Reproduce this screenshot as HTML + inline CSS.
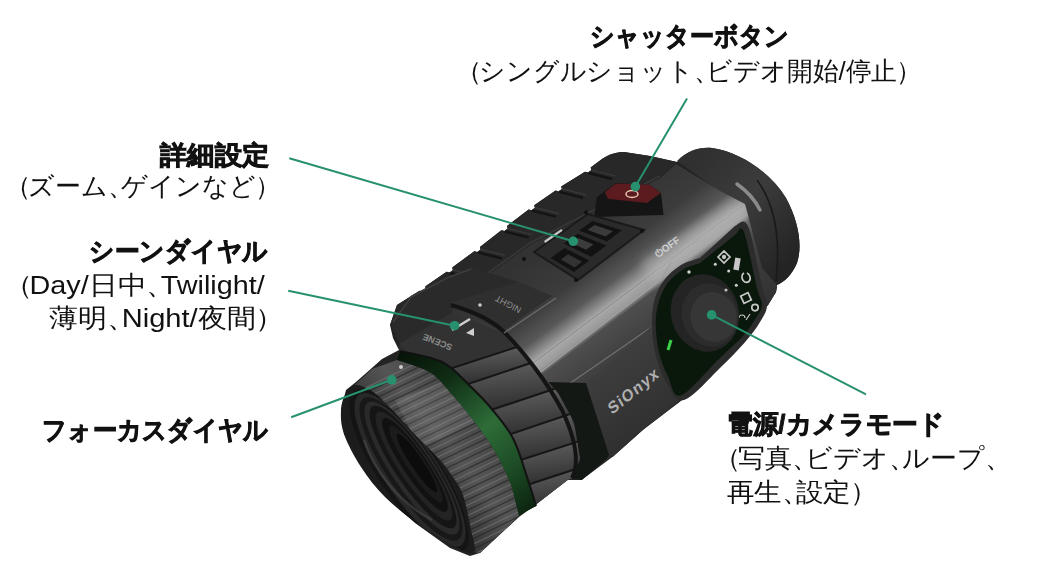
<!DOCTYPE html>
<html><head><meta charset="utf-8">
<style>
html,body{margin:0;padding:0;background:#fff;}
body{width:1058px;height:575px;overflow:hidden;position:relative;font-family:"Liberation Sans",sans-serif;color:#111;}
svg{position:absolute;left:0;top:0;}
.t{position:absolute;white-space:nowrap;line-height:1;transform-origin:0 0;}
.b{font-weight:bold;-webkit-text-stroke:0.9px #111;}
.po{margin-left:-0.04em;}
.pc{margin-left:-0.5em;margin-right:-0.1em;}
.cm{margin-right:-0.5em;}
</style></head><body>
<svg width="1058" height="575" viewBox="0 0 1058 575">
<defs>
 <linearGradient id="gSide" gradientUnits="userSpaceOnUse" x1="620" y1="297.8" x2="692" y2="394">
  <stop offset="0" stop-color="#a8a8a8"/><stop offset="0.08" stop-color="#9a9a9a"/><stop offset="0.125" stop-color="#4e4e4e"/><stop offset="0.45" stop-color="#3c3c3c"/><stop offset="1" stop-color="#2a2a2a"/>
 </linearGradient>
 <linearGradient id="gTop" gradientUnits="userSpaceOnUse" x1="566" y1="226" x2="620" y2="297.8">
  <stop offset="0" stop-color="#323232"/><stop offset="0.55" stop-color="#3c3c3c"/><stop offset="0.8" stop-color="#585858"/><stop offset="1" stop-color="#a8a8a8"/>
 </linearGradient>
 <linearGradient id="gCup" gradientUnits="userSpaceOnUse" x1="700" y1="160" x2="800" y2="250">
  <stop offset="0" stop-color="#303030"/><stop offset="0.45" stop-color="#3c3c3c"/><stop offset="1" stop-color="#242424"/>
 </linearGradient>
 <linearGradient id="gKnurl" gradientUnits="userSpaceOnUse" x1="400" y1="475" x2="485" y2="405">
  <stop offset="0" stop-color="#2e2e2e"/><stop offset="0.5" stop-color="#555"/><stop offset="0.8" stop-color="#4a4a4a"/><stop offset="1" stop-color="#383838"/>
 </linearGradient>
 <linearGradient id="gGreen" gradientUnits="userSpaceOnUse" x1="400" y1="350" x2="530" y2="510">
  <stop offset="0" stop-color="#061207"/><stop offset="0.25" stop-color="#0f2c14"/><stop offset="0.55" stop-color="#2e6c38"/><stop offset="0.8" stop-color="#1c4a24"/><stop offset="1" stop-color="#0c2410"/>
 </linearGradient>
 <linearGradient id="gBlock" gradientUnits="userSpaceOnUse" x1="600" y1="350" x2="650" y2="430">
  <stop offset="0" stop-color="#404040"/><stop offset="1" stop-color="#303030"/>
 </linearGradient>
 <linearGradient id="gCollar" gradientUnits="userSpaceOnUse" x1="470" y1="420" x2="560" y2="380">
  <stop offset="0" stop-color="#2e2e2e"/><stop offset="0.5" stop-color="#444"/><stop offset="1" stop-color="#2a2a2a"/>
 </linearGradient>
 <linearGradient id="gFacet" x1="0" y1="0" x2="0.2" y2="1">
  <stop offset="0" stop-color="#6e6e6e"/><stop offset="0.3" stop-color="#545454"/><stop offset="1" stop-color="#2e2e2e"/>
 </linearGradient>
 <clipPath id="collarClip"><path d="M399,350 L399.5,343.4 L452,313 L505,333 L534,366 L558,393 L574,422 L580,459 L572,478 L567.6,480 L533,506.7 L524,512 L536,506 C534.7,501.7 531.8,491.1 528.0,480.0 C524.2,468.9 519.4,451.0 513.5,439.3 C507.6,427.6 499.9,418.9 492.6,410.0 C485.4,401.1 478.4,394.0 470.0,386.0 C461.6,378.0 453.7,367.8 442.0,362.0 C430.3,356.2 407.0,352.8 400.0,351.0 Z"/></clipPath>
 <filter id="blur6" x="-50%" y="-50%" width="200%" height="200%"><feGaussianBlur stdDeviation="6"/></filter>
 <clipPath id="bodyClip"><path d="M480,403 L745,204 L762,268 L777,285 L776,292 L768,305 L753,321 L743,338 L682,400 L642.7,430 L613,456.6 L581.6,480 L540,440 Z M415,327 L530,245 L660,178 L676,164 L722,192 L745,204 L480,403 L410,336 Z"/></clipPath>
 <clipPath id="knurlClip"><path d="M346,393 L372,369 L397,360 C402.5,362.1 421.0,366.9 430.0,372.5 C439.0,378.1 444.0,385.7 451.0,393.4 C458.0,401.1 464.9,409.4 471.8,418.5 C478.7,427.6 486.4,437.4 492.6,447.7 C498.8,457.9 505.1,470.6 509.0,480.0 C512.9,489.4 514.3,498.0 516.0,504.0 C517.7,510.0 518.5,514.0 519.0,516.0 L480,553 L474,552 L420,500 L380,430 Z"/></clipPath>
 <clipPath id="faceClip"><path d="M474.0,552.0 C471.0,554.7 462.3,550.7 453.0,546.0 C443.7,541.3 429.3,532.2 418.0,524.0 C406.7,515.8 394.5,506.5 385.0,497.0 C375.5,487.5 367.8,477.5 361.0,467.0 C354.2,456.5 347.3,443.5 344.0,434.0 C340.7,424.5 340.7,416.8 341.0,410.0 C341.3,403.2 343.5,397.2 346.0,393.0 C348.5,388.8 351.5,385.2 356.0,385.0 C360.5,384.8 367.0,387.8 373.0,392.0 C379.0,396.2 384.8,402.7 392.0,410.0 C399.2,417.3 407.9,427.6 416.0,436.0 C424.1,444.4 434.8,454.1 440.7,460.7 C446.6,467.2 448.2,470.2 451.7,475.3 C455.1,480.4 458.8,485.2 461.4,491.0 C463.9,496.8 465.4,503.5 467.0,510.0 C468.6,516.5 469.8,523.0 471.0,530.0 C472.2,537.0 477.0,549.3 474.0,552.0 Z"/></clipPath>
</defs>
<!-- silhouette base -->
<path d="M397,305 L419.6,290.8 L422.7,291.6 L425.9,289.1 L425.2,286.6 L446.6,271.8 L449.7,272.6 L452.9,270.1 L452.2,267.6 L474.3,251.2 L477.4,252.0 L480.6,249.5 L479.9,247.0 L501.4,230.3 L504.5,231.1 L507.7,228.6 L507.0,226.1 L528.6,209.4 L531.7,210.2 L534.9,207.7 L534.2,205.2 L555.6,190.6 L558.7,191.4 L561.9,188.9 L561.2,186.4 L585.0,171.8 L588.1,172.6 L591.3,170.1 L590.6,167.6 L602,159 C610,154 616,152 624,152 L650,156 L677,162 C688,150 700,147 712,148 C740,152 770,172 786,198 C798,220 803,245 797,263 C792,275 784,282 777,285 L776,292 L768,305 L753,321 L749,332 L743,338 L682,400 L642.7,430 L613,456.6 L606.7,459 L581.6,480 L567.6,480 L533,506.7 L519,517 L480,553 L470,556 L450,548 L415,523 L385,496 L362,467 L344,434 L341,410 L346,390 L356,382 L382,359 L399,350 L393,338 L390,325 Z" fill="#232323"/>
<!-- eyecup -->
<path d="M677,161 C688,150 700,147 712,148 C740,152 770,172 786,198 C798,220 803,245 797,263 C792,275 784,282 777,285 L762,272 L748,228 L725,195 Z" fill="url(#gCup)"/>
<path d="M757,180 C770,198 777,222 777.5,249 C778,262 777,272 776,281" stroke="#1a1a1a" stroke-width="1.6" fill="none"/>
<path d="M737,184 C747,191 755,200 760,210" stroke="#a0a0a0" stroke-width="3.5" fill="none" stroke-linecap="round" opacity="0.8"/>
<!-- rear collar -->
<path d="M672,166 L722,192 L746,224 L762,268 L777,285 L776,292 L768,305 L753,321 L748,300 L738,252 L716,216 L660,182 Z" fill="#252525"/>
<!-- top surface -->
<path d="M415,327 L530,245 L660,178 L676,164 L722,192 L745,204 L480,403 L410,336 Z" fill="url(#gTop)"/>
<!-- top rail -->
<path d="M397,305 L419.6,290.8 L422.7,291.6 L425.9,289.1 L425.2,286.6 L446.6,271.8 L449.7,272.6 L452.9,270.1 L452.2,267.6 L474.3,251.2 L477.4,252.0 L480.6,249.5 L479.9,247.0 L501.4,230.3 L504.5,231.1 L507.7,228.6 L507.0,226.1 L528.6,209.4 L531.7,210.2 L534.9,207.7 L534.2,205.2 L555.6,190.6 L558.7,191.4 L561.9,188.9 L561.2,186.4 L585.0,171.8 L588.1,172.6 L591.3,170.1 L590.6,167.6 L602,159 C610,154 616,152 624,152 L650,156 L677,162 L660,178 L530,245 L415,327 L400,338 L390,325 Z" fill="#282828"/>
<g stroke="#141414" stroke-width="2.5" fill="none"><path d="M423.0,292.0 l24,6"/><path d="M450.0,273.0 l24,6"/><path d="M477.7,252.4 l24,6"/><path d="M504.8,231.5 l24,6"/><path d="M532.0,210.6 l24,6"/><path d="M559.0,191.8 l24,6"/><path d="M588.4,173.0 l24,6"/></g>
<g stroke="#3a3a3a" stroke-width="1.2" fill="none"><path d="M426.0,289.0 l24,6"/><path d="M453.0,270.0 l24,6"/><path d="M480.7,249.4 l24,6"/><path d="M507.8,228.5 l24,6"/><path d="M535.0,207.6 l24,6"/><path d="M562.0,188.8 l24,6"/><path d="M591.4,170.0 l24,6"/></g>
<path d="M415,325 L530,243 L660,176" stroke="#383838" stroke-width="1.5" fill="none"/>
<!-- side face -->
<path d="M480,403 L745,204 L762,268 L777,285 L776,292 L768,305 L753,321 L743,338 L682,400 L642.7,430 L613,456.6 L581.6,480 L540,440 Z" fill="url(#gSide)"/>
<g clip-path="url(#bodyClip)"><path d="M640,262 L735,200 L752,220 L745,236 L690,262 L655,285 Z" fill="#b8b8b8" opacity="0.45" filter="url(#blur6)"/></g>
<path d="M530,380 L662,279 C666,272 668,266 672,262" stroke="#a0a0a0" stroke-width="1.3" fill="none"/>
<path d="M569,384 L653,326" stroke="#707070" stroke-width="1.2"/>
<text x="658" y="258" font-size="10" fill="#d0d0d0" transform="rotate(-36 658 258)" font-family="Liberation Sans" font-weight="bold">&#x23FB;OFF</text>
<!-- SiOnyx block -->
<path d="M586,383 L652,326 L662,333 L682,398 L642.7,430 L613,456.6 L609,455 Z" fill="url(#gBlock)"/>
<path d="M548,382 L586,383 L609,455 L606.7,459 L581.6,480 L572,478 Z" fill="#131814"/>
<text x="0" y="0" font-size="16" fill="#b0b0b0" transform="translate(612 415) rotate(-39) skewX(-10)" font-family="Liberation Sans" font-weight="bold" letter-spacing="1.2">SiOnyx</text>
<!-- green panel bezel & panel -->
<path d="M735.0,226.0 C737.2,226.0 743.5,215.8 748.0,226.0 C752.5,236.2 758.8,273.7 762.0,287.0 C765.2,300.3 767.3,300.2 767.0,306.0 C766.7,311.8 763.5,316.2 760.0,322.0 C756.5,327.8 752.3,333.7 746.0,341.0 C739.7,348.3 732.3,356.2 722.0,366.0 C711.7,375.8 693.3,397.3 684.0,400.0 C674.7,402.7 670.8,390.0 666.0,382.0 C661.2,374.0 657.3,362.0 655.0,352.0 C652.7,342.0 652.0,331.0 652.0,322.0 C652.0,313.0 652.8,305.2 655.0,298.0 C657.2,290.8 660.7,284.5 665.0,279.0 C669.3,273.5 675.2,268.5 681.0,265.0 C686.8,261.5 696.8,259.2 700.0,258.0 Z" fill="#2c2c2c"/>
<path d="M736.0,234.0 C737.3,233.7 740.5,223.0 744.0,232.0 C747.5,241.0 754.0,275.8 757.0,288.0 C760.0,300.2 762.2,300.0 762.0,305.0 C761.8,310.0 759.2,312.8 756.0,318.0 C752.8,323.2 749.0,329.3 743.0,336.0 C737.0,342.7 730.3,348.1 720.0,358.0 C709.7,367.9 689.7,392.3 681.0,395.4 C672.3,398.5 671.7,383.9 668.0,376.6 C664.3,369.3 660.8,360.4 658.8,351.5 C656.8,342.6 655.7,331.8 655.7,323.4 C655.7,315.0 656.8,308.2 658.8,301.4 C660.8,294.6 663.8,288.0 668.0,282.6 C672.2,277.2 678.5,272.3 683.8,269.0 C689.1,265.7 697.3,264.0 700.0,263.0 Z" fill="#0a180c"/>
<g fill="none" stroke="#c8c8c8" stroke-width="1.7">
 <path d="M718,257 L724,251 L730,257 L724,263 Z"/>
 <circle cx="724" cy="257" r="1.3" fill="#c8c8c8"/>
 <path d="M736,270 L738,258" stroke-width="5.5"/>
 <path d="M744,273 a4,5 -20 1 0 3,0"/>
 <rect x="742" y="294" width="8" height="8" transform="rotate(-25 746 298)"/>
 <circle cx="755" cy="307.6" r="3.2"/>
 <path d="M750,314 L746,320" stroke-width="1.2"/>
 <path d="M739,318 a3,3 0 0 1 6,0" stroke-width="1.2"/>
</g>
<g fill="#d0d0d0">
 <circle cx="715.3" cy="264.2" r="1.5"/><circle cx="689" cy="272" r="1.7"/><circle cx="728.7" cy="271" r="1.5"/><circle cx="736.3" cy="285.2" r="1.5"/>
</g>
<ellipse cx="705" cy="313" rx="34" ry="39" transform="rotate(-15 705 313)" fill="#242424"/>
<ellipse cx="710" cy="315" rx="28" ry="32" transform="rotate(-15 710 315)" fill="#2c2c2c"/>
<ellipse cx="713.6" cy="317" rx="23" ry="25" transform="rotate(-15 713.6 317)" fill="#363636"/>
<circle cx="726" cy="290" r="1.6" fill="#bbb"/>
<path d="M668,350 L671,340" stroke="#3bd046" stroke-width="3"/>
<!-- shutter -->
<path d="M597,197 L605,191 L616,183 L650,185 L661,193 L663.5,215 L594,217 Z" fill="#151515"/>
<path d="M605,192 L616,183.4 L649.6,184.8 L660.7,193 L646.8,203 L607.8,198.7 Z" fill="#5c1b1f"/>
<ellipse cx="632" cy="194" rx="6" ry="3.5" fill="none" stroke="#e6c8b0" stroke-width="1.5"/>
<!-- button pad -->
<path d="M534.0,252.0 L588.0,214.0 L644.0,230.0 L578.0,280.0 Z" fill="#2a2a2a" stroke="#1a1a1a" stroke-width="2"/>
<path d="M579.0,230.5 L592.5,220.9 L622.1,230.2 L607.0,241.4 Z" fill="#121212"/><path d="M587.6,230.1 L594.5,225.1 L612.9,231.2 L605.5,236.6 Z" fill="#3a3a3a"/>
<path d="M564.1,243.5 L577.7,233.8 L606.3,245.4 L591.1,256.8 Z" fill="#121212"/><path d="M571.4,242.9 L578.3,237.9 L593.4,244.4 L586.1,249.8 Z" fill="#3c3c3c"/>
<path d="M550.7,257.9 L564.5,247.9 L589.2,260.6 L573.9,272.1 Z" fill="#121212"/><path d="M560.9,259.4 L568.1,254.2 L582.1,261.7 L574.6,267.4 Z" fill="#333"/>
<path d="M544.6,242 L562,229.8" stroke="#c8c8c8" stroke-width="2.2"/>
<g fill="#111"><circle cx="586" cy="212.5" r="2"/><circle cx="642" cy="231" r="2"/><circle cx="524" cy="259" r="2"/><circle cx="576" cy="280" r="2"/></g>

<!-- scene housing -->
<path d="M391,324 L410.6,296 L446.8,276.7 L471.8,268 L519,282 L452,302 L452,313 L399.5,343.4 Z" fill="#2a2a2a"/>
<path d="M393,322 L411,297 L447,278 L471,269" stroke="#3e3e3e" stroke-width="1.5" fill="none"/>
<!-- lens housing collar -->
<path d="M399,350 L399.5,343.4 L452,313 L505,333 L534,366 L558,393 L574,422 L580,459 L572,478 L567.6,480 L533,506.7 L524,512 L536,506 C534.7,501.7 531.8,491.1 528.0,480.0 C524.2,468.9 519.4,451.0 513.5,439.3 C507.6,427.6 499.9,418.9 492.6,410.0 C485.4,401.1 478.4,394.0 470.0,386.0 C461.6,378.0 453.7,367.8 442.0,362.0 C430.3,356.2 407.0,352.8 400.0,351.0 Z" fill="url(#gCollar)"/>
<path d="M399.5,343.4 L452,313 L502,332 L520,355 L470,372 L420,366 Z" fill="#323232"/>
<text x="453" y="345" font-size="9" fill="#8a8a8a" transform="rotate(202 453 345)" font-family="Liberation Sans" font-weight="bold">SCENE</text>
<path d="M452,330 L470,319" stroke="#d0d0d0" stroke-width="2.5"/>
<path d="M466,333 L474,328 L474,336 Z" fill="#cfcfcf"/>
<g clip-path="url(#collarClip)">
 <path d="M440,372 L520,346 L540,360 L462,386 Z" fill="url(#gFacet)"/>
 <path d="M462,386 L540,360 L557,388 L482,413 Z" fill="url(#gFacet)"/>
 <path d="M482,413 L557,388 L570,414 L496,439 Z" fill="url(#gFacet)"/>
 <path d="M496,439 L570,414 L580,441 L508,464 Z" fill="url(#gFacet)"/>
 <path d="M508,464 L580,441 L585,466 L518,488 Z" fill="url(#gFacet)"/>
 <path d="M518,488 L585,466 L590,490 L528,512 Z" fill="url(#gFacet)"/>
 <g stroke="#161616" stroke-width="2" fill="none">
  <path d="M440,372 L520,346"/><path d="M462,386 L540,360"/><path d="M482,413 L557,388"/><path d="M496,439 L570,414"/><path d="M508,464 L580,441"/><path d="M518,488 L585,466"/>
 </g>
</g>
<!-- NIGHT plate -->
<path d="M452,302 L519,282 L552,296 L502,332 Z" fill="#2f2f2f"/>
<text x="522" y="308" font-size="9" fill="#909090" transform="rotate(208 522 308)" font-family="Liberation Sans">NIGHT</text>
<circle cx="480" cy="305" r="1.8" fill="#ccc"/>
<path d="M451,305 C475,312 495,322 506,334 C522,350 546,380 562,410 C576,440 580,462 572,478" stroke="#141414" stroke-width="4" fill="none"/>
<path d="M504,333 L556,298" stroke="#6a6a6a" stroke-width="1.5"/>
<!-- green ring -->
<path d="M400.0,351.0 C407.0,352.8 430.3,356.2 442.0,362.0 C453.7,367.8 461.6,378.0 470.0,386.0 C478.4,394.0 485.4,401.1 492.6,410.0 C499.9,418.9 507.6,427.6 513.5,439.3 C519.4,451.0 524.2,468.9 528.0,480.0 C531.8,491.1 534.7,501.7 536.0,506.0 L518,516 C518.5,514.0 517.7,510.0 516.0,504.0 C514.3,498.0 512.9,489.4 509.0,480.0 C505.1,470.6 498.8,457.9 492.6,447.7 C486.4,437.4 478.7,427.6 471.8,418.5 C464.9,409.4 458.0,401.1 451.0,393.4 C444.0,385.7 439.0,378.1 430.0,372.5 C421.0,366.9 402.5,362.1 397.0,360.0 Z" fill="url(#gGreen)"/>
<path d="M400.0,351.0 C407.0,352.8 430.3,356.2 442.0,362.0 C453.7,367.8 461.6,378.0 470.0,386.0 C478.4,394.0 485.4,401.1 492.6,410.0 C499.9,418.9 507.6,427.6 513.5,439.3 C519.4,451.0 524.2,468.9 528.0,480.0 C531.8,491.1 534.7,501.7 536.0,506.0" stroke="#121212" stroke-width="2" fill="none"/>
<!-- knurl ring -->
<path d="M346,393 L372,369 L397,360 C402.5,362.1 421.0,366.9 430.0,372.5 C439.0,378.1 444.0,385.7 451.0,393.4 C458.0,401.1 464.9,409.4 471.8,418.5 C478.7,427.6 486.4,437.4 492.6,447.7 C498.8,457.9 505.1,470.6 509.0,480.0 C512.9,489.4 514.3,498.0 516.0,504.0 C517.7,510.0 518.5,514.0 519.0,516.0 L480,553 L474,552 L420,500 L380,430 Z" fill="url(#gKnurl)"/>
<g clip-path="url(#knurlClip)" stroke-width="1.2">
 <g stroke="#7a7a7a" opacity="0.6">
 <path d="M330.0,405.0 l120,-58"/><path d="M335.0,413.0 l120,-58"/><path d="M340.0,421.0 l120,-58"/><path d="M345.0,429.0 l120,-58"/><path d="M350.0,437.0 l120,-58"/><path d="M355.0,445.0 l120,-58"/><path d="M360.0,453.0 l120,-58"/><path d="M365.0,461.0 l120,-58"/><path d="M370.0,469.0 l120,-58"/><path d="M375.0,477.0 l120,-58"/><path d="M380.0,485.0 l120,-58"/><path d="M385.0,493.0 l120,-58"/><path d="M390.0,501.0 l120,-58"/><path d="M395.0,509.0 l120,-58"/><path d="M400.0,517.0 l120,-58"/><path d="M405.0,525.0 l120,-58"/><path d="M410.0,533.0 l120,-58"/><path d="M415.0,541.0 l120,-58"/><path d="M420.0,549.0 l120,-58"/><path d="M425.0,557.0 l120,-58"/><path d="M430.0,565.0 l120,-58"/><path d="M435.0,573.0 l120,-58"/><path d="M440.0,581.0 l120,-58"/><path d="M445.0,589.0 l120,-58"/><path d="M450.0,597.0 l120,-58"/><path d="M455.0,605.0 l120,-58"/>
 </g>
 <g stroke="#1e1e1e" opacity="0.6">
 <path d="M332.0,409.0 l120,-58"/><path d="M337.0,417.0 l120,-58"/><path d="M342.0,425.0 l120,-58"/><path d="M347.0,433.0 l120,-58"/><path d="M352.0,441.0 l120,-58"/><path d="M357.0,449.0 l120,-58"/><path d="M362.0,457.0 l120,-58"/><path d="M367.0,465.0 l120,-58"/><path d="M372.0,473.0 l120,-58"/><path d="M377.0,481.0 l120,-58"/><path d="M382.0,489.0 l120,-58"/><path d="M387.0,497.0 l120,-58"/><path d="M392.0,505.0 l120,-58"/><path d="M397.0,513.0 l120,-58"/><path d="M402.0,521.0 l120,-58"/><path d="M407.0,529.0 l120,-58"/><path d="M412.0,537.0 l120,-58"/><path d="M417.0,545.0 l120,-58"/><path d="M422.0,553.0 l120,-58"/><path d="M427.0,561.0 l120,-58"/><path d="M432.0,569.0 l120,-58"/><path d="M437.0,577.0 l120,-58"/><path d="M442.0,585.0 l120,-58"/><path d="M447.0,593.0 l120,-58"/><path d="M452.0,601.0 l120,-58"/><path d="M457.0,609.0 l120,-58"/>
 </g>
</g>
<g clip-path="url(#knurlClip)"><path d="M395,400 L455,378 L480,420 L420,448 Z" fill="#ffffff" opacity="0.09"/></g>
<circle cx="401" cy="367" r="2" fill="#ccc"/>
<!-- lens front face -->
<path d="M474.0,552.0 C471.0,554.7 462.3,550.7 453.0,546.0 C443.7,541.3 429.3,532.2 418.0,524.0 C406.7,515.8 394.5,506.5 385.0,497.0 C375.5,487.5 367.8,477.5 361.0,467.0 C354.2,456.5 347.3,443.5 344.0,434.0 C340.7,424.5 340.7,416.8 341.0,410.0 C341.3,403.2 343.5,397.2 346.0,393.0 C348.5,388.8 351.5,385.2 356.0,385.0 C360.5,384.8 367.0,387.8 373.0,392.0 C379.0,396.2 384.8,402.7 392.0,410.0 C399.2,417.3 407.9,427.6 416.0,436.0 C424.1,444.4 434.8,454.1 440.7,460.7 C446.6,467.2 448.2,470.2 451.7,475.3 C455.1,480.4 458.8,485.2 461.4,491.0 C463.9,496.8 465.4,503.5 467.0,510.0 C468.6,516.5 469.8,523.0 471.0,530.0 C472.2,537.0 477.0,549.3 474.0,552.0 Z" fill="#1c1c1c"/>
<g clip-path="url(#faceClip)">
 <ellipse cx="409" cy="471" rx="97" ry="30" transform="rotate(56 409 471)" fill="#141414"/>
 <ellipse cx="410" cy="470" rx="91" ry="27" transform="rotate(56 410 470)" fill="#282828"/>
 <ellipse cx="411" cy="469" rx="85" ry="24" transform="rotate(56 411 469)" fill="#181818"/>
 <ellipse cx="412" cy="468" rx="79" ry="21" transform="rotate(56 412 468)" fill="#2a2a2a"/>
 <ellipse cx="413" cy="467" rx="73" ry="18" transform="rotate(56 413 467)" fill="#151515"/>
 <path d="M364,440 C374,470 398,502 432,520" stroke="#4a4a4a" stroke-width="2.5" fill="none" opacity="0.6"/>
 <ellipse cx="414" cy="466" rx="65" ry="15" transform="rotate(56 414 466)" fill="#232323"/>
 <ellipse cx="415" cy="465" rx="56" ry="12" transform="rotate(56 415 465)" fill="#111"/>
 <ellipse cx="416" cy="464" rx="46" ry="9" transform="rotate(56 416 464)" fill="#1b1b1b"/>
 <ellipse cx="417" cy="463" rx="35" ry="6" transform="rotate(56 417 463)" fill="#0c0c0c"/>
</g>
<!-- leader lines -->
<g stroke="#27916f" stroke-width="2" fill="none">
 <line x1="687" y1="98.6" x2="635.4" y2="186.6"/>
 <line x1="289.3" y1="158.3" x2="573.3" y2="241.3"/>
 <line x1="288.2" y1="290.7" x2="454.6" y2="325.7"/>
 <line x1="291.2" y1="417.2" x2="391.8" y2="379.8"/>
 <line x1="711.6" y1="314.9" x2="866" y2="394.3"/>
</g>
<g fill="#27916f">
 <circle cx="635.4" cy="186.6" r="4.8"/>
 <circle cx="573.3" cy="241.3" r="4.8"/>
 <circle cx="454.6" cy="325.7" r="4.8"/>
 <circle cx="391.8" cy="379.8" r="4.8"/>
 <circle cx="711.6" cy="314.9" r="4.8"/>
</g>
</svg>
<div class="t b" id="t1" style="left:589.5px;top:23.3px;font-size:26px;transform:scaleX(0.9265);">シャッターボタン</div>
<div class="t" id="t2" style="left:468.5px;top:57.5px;font-size:26px;transform:scaleX(0.9920);"><span class="pc">（</span>シングルショット<span class="cm">、</span>ビデオ開始/停止<span class="po">）</span></div>
<div class="t b" id="t3" style="left:159.5px;top:141.6px;font-size:26px;transform:scaleX(1.0486);">詳細設定</div>
<div class="t" id="t4" style="left:17.5px;top:172.7px;font-size:26px;transform:scaleX(0.9979);"><span class="pc">（</span>ズーム<span class="cm">、</span>ゲインなど<span class="po">）</span></div>
<div class="t b" id="t5" style="left:88.7px;top:237.8px;font-size:26px;transform:scaleX(0.9522);">シーンダイヤル</div>
<div class="t" id="t6" style="left:18.3px;top:272.0px;font-size:26px;transform:scaleX(1.1073);"><span class="pc">（</span>Day/日中<span class="cm">、</span>Twilight/</div>
<div class="t" id="t7" style="left:49.3px;top:304.8px;font-size:26px;transform:scaleX(1.1187);">薄明<span class="cm">、</span>Night/夜間<span class="po">）</span></div>
<div class="t b" id="t8" style="left:42.3px;top:416.5px;font-size:26px;transform:scaleX(0.9358);">フォーカスダイヤル</div>
<div class="t b" id="t9" style="left:726.6px;top:411.2px;font-size:26px;transform:scaleX(0.9879);">電源/カメラモード</div>
<div class="t" id="t10" style="left:727.4px;top:444.9px;font-size:26px;transform:scaleX(1.0356);"><span class="pc">（</span>写真<span class="cm">、</span>ビデオ<span class="cm">、</span>ループ<span class="cm">、</span></div>
<div class="t" id="t11" style="left:726.7px;top:478.6px;font-size:26px;transform:scaleX(1.0576);">再生<span class="cm">、</span>設定<span class="po">）</span></div>
</body></html>
